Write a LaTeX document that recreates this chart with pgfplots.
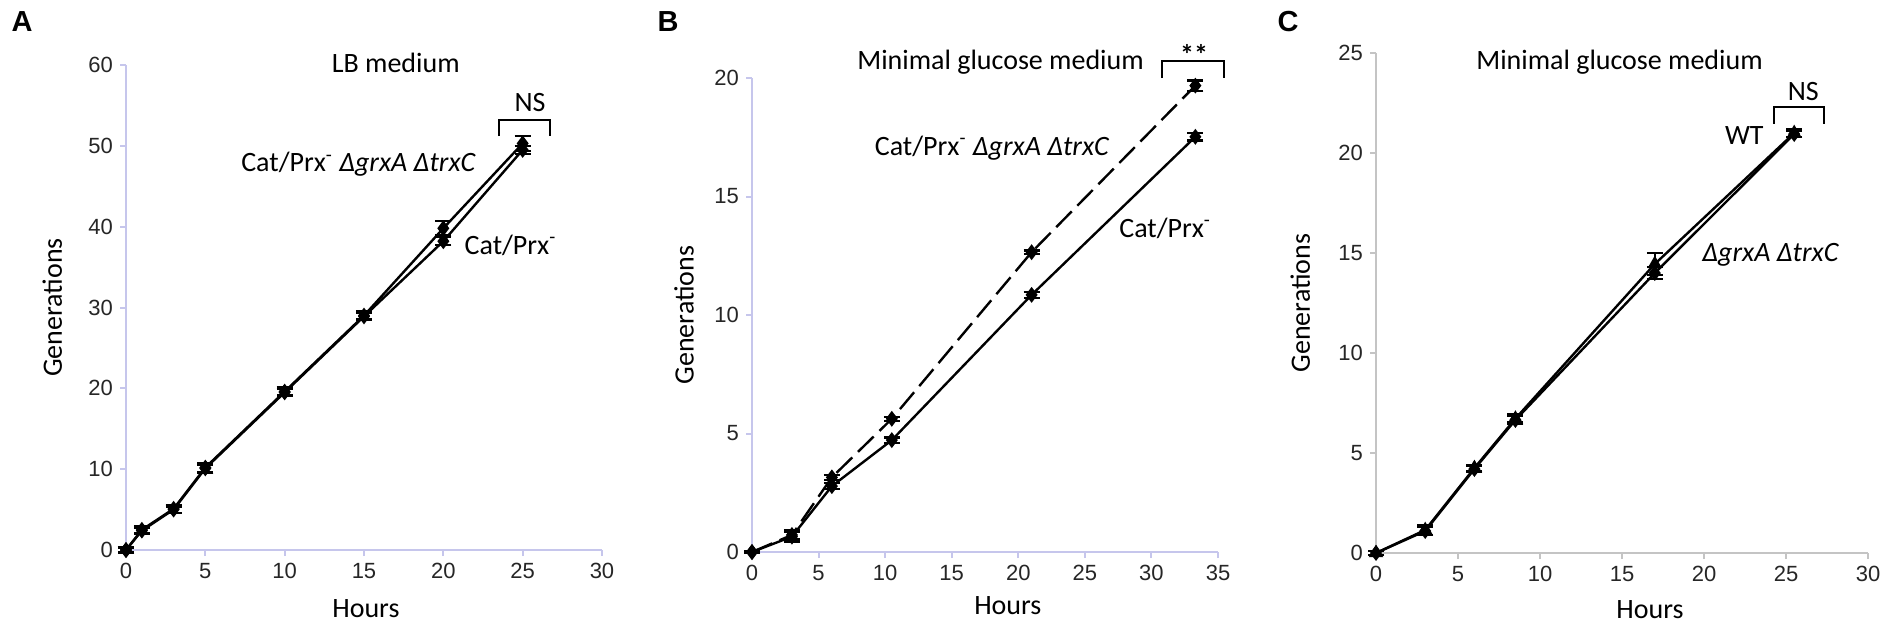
\documentclass[border=0pt]{standalone}
\usepackage{fontspec}
\setmainfont{Carlito}
\newfontfamily\arialf{Liberation Sans}
\usepackage{pgfplots}
\pgfplotsset{compat=1.18}

\definecolor{axlav}{RGB}{198,198,236}
\definecolor{axgray}{RGB}{196,196,196}

\pgfplotsset{
  growth/.style={
    scale only axis, clip=false, anchor=south west,
    axis x line*=bottom, axis y line*=left,
    xmin=0, ymin=0,
    tick align=outside, major tick length=3pt,
    ticklabel style={font=\arialf\fontsize{11}{13}\selectfont, text=black!85},
    /pgf/number format/assume math mode=true,
    xlabel={Hours}, ylabel={Generations},
    every axis plot/.append style={black, line width=1.2pt, mark size=3pt, mark options={solid}},
    error bars/y dir=both, error bars/y explicit,
    error bars/error bar style={line width=1.2pt, black, solid},
    error bars/error mark options={rotate=90, mark size=4pt, line width=1.2pt, black, solid},
  },
  labpos/.style n args={3}{
    every axis y label/.style={at={(axis description cs:#1,0.5)}, rotate=90, anchor=center,
      font=\fontsize{14}{16}\selectfont},
    every axis x label/.style={at={(axis description cs:#2,#3)}, anchor=center,
      font=\fontsize{14}{16}\selectfont},
  },
  lav/.style={axis line style={axlav, line width=1pt}, tick style={axlav, line width=1pt}},
  gry/.style={axis line style={axgray, line width=1pt}, tick style={axgray, line width=1pt}},
}
\newcommand\lab{\fontsize{14}{16}\selectfont}
\newcommand\cp{Cat/Prx\textsuperscript{-}}

\begin{document}
\begin{tikzpicture}
\path[use as bounding box] (0,0) rectangle (951pt,-314.5pt);

\node[font=\arialf\bfseries\fontsize{14.5}{16}\selectfont] at (11pt,-11pt) {A};
\node[font=\arialf\bfseries\fontsize{14.5}{16}\selectfont] at (334pt,-11pt) {B};
\node[font=\arialf\bfseries\fontsize{14.5}{16}\selectfont] at (644pt,-11pt) {C};

% ---- A: LB medium
\begin{axis}[growth, lav, labpos={-0.155}{0.504}{-0.12},
  at={(63pt,-275pt)}, width=238pt, height=242.5pt,
  xmax=30, ymax=60, xtick={0,5,...,30}, ytick={0,10,...,60}]
  \addplot[mark=diamond*] coordinates {
    (0,0) +- (0,0.3) (1,2.5) +- (0,0.4) (3,5.1) +- (0,0.5) (5,10.2) +- (0,0.6)
    (10,19.6) +- (0,0.5) (15,29.0) +- (0,0.5) (20,39.8) +- (0,0.9) (25,50.3) +- (0,0.9)};
  \addplot[mark=diamond*] coordinates {
    (0,0) +- (0,0.3) (1,2.4) +- (0,0.4) (3,5.0) +- (0,0.4) (5,10.1) +- (0,0.5)
    (10,19.5) +- (0,0.4) (15,28.9) +- (0,0.4) (20,38.2) +- (0,0.5) (25,49.5) +- (0,0.5)};
  \node[font=\lab] at (axis cs:17,60.3) {LB medium};
  \node[font=\lab] at (axis cs:14.66,47.7) {\cp{} \textit{ΔgrxA ΔtrxC}};
  \node[font=\lab, anchor=west] at (axis cs:20.9,37.7) {\cp};
  \node[font=\lab] at (axis cs:25.47,55.4) {NS};
  \draw[black, line width=1pt] (axis cs:23.5,51.2) -- (axis cs:23.5,53.2) -- (axis cs:26.75,53.2) -- (axis cs:26.75,51.2);
\end{axis}

% ---- B: minimal glucose medium
\begin{axis}[growth, lav, labpos={-0.146}{0.549}{-0.114},
  at={(376pt,-276pt)}, width=233pt, height=237pt,
  xmax=35, ymax=20, xtick={0,5,...,35}, ytick={0,5,...,20}]
  \addplot[mark=diamond*, dash pattern=on 11pt off 4pt] coordinates {
    (0,0) +- (0,0.05) (3,0.72) +- (0,0.2) (6,3.15) +- (0,0.1) (10.5,5.62) +- (0,0.08)
    (21,12.65) +- (0,0.08) (33.3,19.68) +- (0,0.22)};
  \addplot[mark=diamond*] coordinates {
    (0,0) +- (0,0.05) (3,0.65) +- (0,0.2) (6,2.78) +- (0,0.12) (10.5,4.72) +- (0,0.12)
    (21,10.85) +- (0,0.12) (33.3,17.52) +- (0,0.15)};
  \node[font=\lab] at (axis cs:18.67,20.66) {Minimal glucose medium};
  \node[font=\lab] at (axis cs:18.04,17.06) {\cp{} \textit{ΔgrxA ΔtrxC}};
  \node[font=\lab] at (axis cs:31.03,13.67) {\cp};
  \node[font=\lab\bfseries] at (axis cs:33.2,21.0) {**};
  \draw[black, line width=1pt] (axis cs:30.76,20.0) -- (axis cs:30.76,20.71) -- (axis cs:35.45,20.71) -- (axis cs:35.45,20.0);
\end{axis}

% ---- C: minimal glucose medium
\begin{axis}[growth, gry, labpos={-0.154}{0.557}{-0.114},
  at={(688pt,-276.5pt)}, width=246pt, height=250pt,
  xmax=30, ymax=25, xtick={0,5,...,30}, ytick={0,5,...,25}]
  \addplot[mark=triangle*] coordinates {
    (0,0) +- (0,0.1) (3,1.15) +- (0,0.25) (6,4.25) +- (0,0.15) (8.5,6.72) +- (0,0.2)
    (17,14.45) +- (0,0.55) (25.5,21.0) +- (0,0.2)};
  \addplot[mark=diamond*] coordinates {
    (0,0) +- (0,0.1) (3,1.1) +- (0,0.2) (6,4.2) +- (0,0.15) (8.5,6.65) +- (0,0.2)
    (17,14.0) +- (0,0.3) (25.5,20.95) +- (0,0.15)};
  \node[font=\lab] at (axis cs:14.85,24.52) {Minimal glucose medium};
  \node[font=\lab] at (axis cs:22.46,20.86) {WT};
  \node[font=\lab] at (axis cs:24.07,14.93) {\textit{ΔgrxA ΔtrxC}};
  \node[font=\lab] at (axis cs:26.05,23.1) {NS};
  \draw[black, line width=1pt] (axis cs:24.29,21.46) -- (axis cs:24.29,22.3) -- (axis cs:27.29,22.3) -- (axis cs:27.29,21.46);
\end{axis}
\end{tikzpicture}
\end{document}
